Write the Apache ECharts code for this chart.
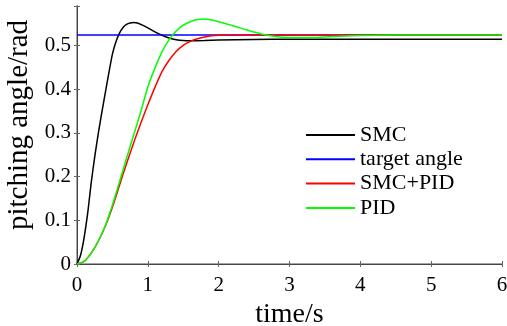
<!DOCTYPE html>
<html>
<head>
<meta charset="utf-8">
<script src="https://cdn.jsdelivr.net/npm/echarts@6/dist/echarts.min.js"></script>
<style>html,body{margin:0;padding:0;background:#fff}#c{width:507px;height:326px}</style>
</head>
<body>
<div id="c"></div>
<script>
const smcTime = [0,0.05,0.1,0.15,0.2,0.25,0.3,0.35,0.4,0.45,0.5,0.55,0.6,0.65,0.7,0.75,0.8,0.85,0.9,1.0,1.1,1.2,1.3,1.4,1.5,1.6,1.8,2.0,2.5,3,6];
const smcValues = [0,0.02,0.06,0.115,0.185,0.245,0.298,0.346,0.392,0.437,0.48,0.508,0.528,0.541,0.548,0.551,0.552,0.551,0.548,0.54,0.531,0.523,0.517,0.513,0.511,0.5105,0.511,0.512,0.5135,0.514,0.514];
const pidTime = [0,0.1,0.2,0.3,0.4,0.5,0.6,0.7,0.8,0.9,1.0,1.1,1.2,1.3,1.4,1.5,1.6,1.7,1.8,1.9,2.0,2.2,2.4,2.6,2.8,3.0,3.3,3.6,4.0,4.5,6];
const pidValues = [0,0.006,0.025,0.052,0.088,0.135,0.188,0.242,0.295,0.348,0.405,0.448,0.485,0.513,0.533,0.546,0.554,0.559,0.56,0.558,0.554,0.545,0.535,0.526,0.52,0.518,0.518,0.52,0.5225,0.5235,0.5236];
const smcPidTime = [0,0.1,0.2,0.3,0.4,0.5,0.6,0.7,0.8,0.9,1.0,1.1,1.2,1.3,1.4,1.5,1.6,1.7,1.8,1.9,2.0,2.2,2.5,3,6];
const smcPidValues = [0,0.006,0.025,0.052,0.087,0.13,0.18,0.23,0.277,0.322,0.364,0.404,0.44,0.466,0.486,0.5,0.509,0.515,0.519,0.522,0.5232,0.5236,0.5236,0.5236,0.5236];
const targetTime = [0,6];
const targetValues = [0.5236,0.5236];
const seriesNames = ['SMC','target angle','SMC+PID','PID'];
const seriesColors = ['#000000','#0000ff','#ff0000','#00ff00'];
const xTicks = [0,1,2,3,4,5,6];

const pairs = (t, v) => t.map((x, i) => [x, v[i]]);
const font = '"Liberation Serif","Times New Roman",Times,serif';
const chart = echarts.init(document.getElementById('c'), null, {renderer: 'canvas'});
const mk = (name, data, idx, z) => ({
  name, type: 'line', data, smooth: 0.25, showSymbol: false, symbol: 'none', z,
  lineStyle: {color: seriesColors[idx], width: 1.5}, itemStyle: {color: seriesColors[idx]}
});
chart.setOption({
  animation: false,
  backgroundColor: '#fff',
  grid: {left: 77, right: 5, top: 6, bottom: 62, containLabel: false, outerBoundsMode: 'none'},
  legend: {
    orient: 'vertical', left: 306, top: 124, padding: 0, itemWidth: 49, itemHeight: 2, itemGap: 2.3,
    icon: 'rect', data: seriesNames,
    textStyle: {fontFamily: font, fontSize: 22, color: '#000', lineHeight: 22}
  },
  xAxis: [{
    type: 'value', min: 0, max: 6, interval: 1,
    name: 'time/s', nameLocation: 'middle', nameGap: 34,
    nameTextStyle: {fontFamily: font, fontSize: 28, color: '#000'},
    axisLine: {show: true, lineStyle: {color: '#888', width: 1.5}},
    axisTick: {show: true, inside: true, length: 3, lineStyle: {color: '#666'}},
    axisLabel: {fontFamily: font, fontSize: 21, color: '#000', margin: 11,
      formatter: v => xTicks.includes(v) ? String(v) : ''},
    splitLine: {show: false}
  }, {
    type: 'value', min: 0, max: 6, interval: 1, position: 'top',
    axisLine: {show: true, lineStyle: {color: '#444', width: 1}},
    axisTick: {show: true, inside: true, length: 3, lineStyle: {color: '#666'}},
    axisLabel: {show: false}, splitLine: {show: false}
  }],
  yAxis: [{
    type: 'value', min: 0, max: 0.59, interval: 0.1,
    name: 'pitching angle/rad', nameLocation: 'middle', nameGap: 38,
    nameTextStyle: {fontFamily: font, fontSize: 29, color: '#000', padding: [0, 0, 0, 20]},
    axisLine: {show: true, lineStyle: {color: '#888', width: 1.5}},
    axisTick: {show: true, inside: true, length: 3, lineStyle: {color: '#666'}},
    axisLabel: {fontFamily: font, fontSize: 21, color: '#000', margin: 6,
      formatter: v => (v > 0.55 ? '' : (Math.round(v * 10) / 10).toString())},
    splitLine: {show: false}
  }, {
    type: 'value', min: 0, max: 0.59, interval: 0.1, position: 'right',
    axisLine: {show: true, lineStyle: {color: '#444', width: 1}},
    axisTick: {show: true, inside: true, length: 3, lineStyle: {color: '#666'}},
    axisLabel: {show: false}, splitLine: {show: false}
  }],
  series: [
    mk(seriesNames[0], pairs(smcTime, smcValues), 0, 2),
    mk(seriesNames[1], pairs(targetTime, targetValues), 1, 3),
    mk(seriesNames[2], pairs(smcPidTime, smcPidValues), 2, 4),
    mk(seriesNames[3], pairs(pidTime, pidValues), 3, 5)
  ]
});
</script>
</body>
</html>
